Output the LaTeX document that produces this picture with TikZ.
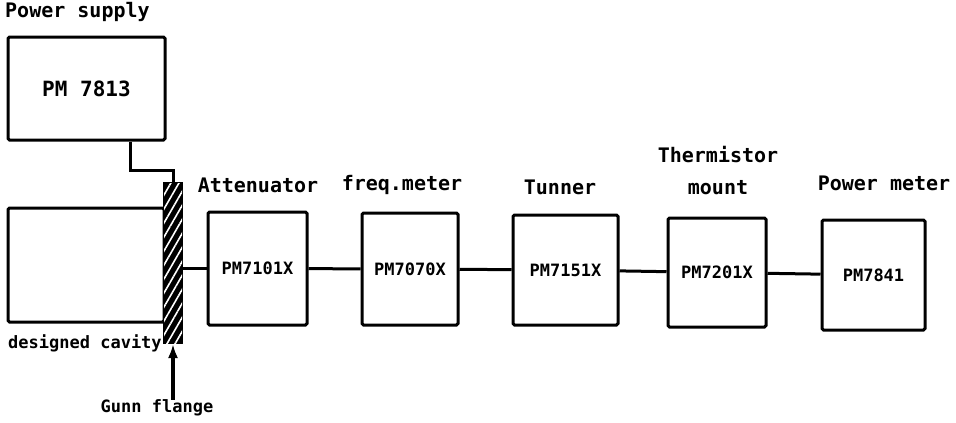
\documentclass[tikz,border=0pt]{standalone}
\usepackage{fontspec}
\setmonofont{DejaVu Sans Mono}
\usetikzlibrary{arrows.meta,patterns.meta}

\begin{document}
\begin{tikzpicture}[
x=1pt, y=-1pt,
every node/.style={font=\ttfamily\bfseries, align=center, inner sep=0pt},
unitbox/.style={draw, line width=3pt, rounded corners=1.5pt, font=\ttfamily\bfseries\fontsize{17}{20}\selectfont},
toplabel/.style={font=\ttfamily\bfseries\fontsize{20}{32}\selectfont},
smalllabel/.style={font=\ttfamily\bfseries\fontsize{17}{20}\selectfont},
flangebar/.style={draw, line width=2pt, fill=black, postaction={pattern={Lines[angle=60,distance=7pt,line width=1.6pt]}, pattern color=white}},
wire/.style={line width=3pt}
]
\useasboundingbox (0,0) rectangle (956,423);
% source side
\node[toplabel, anchor=west] (pslabel) at (5,12) {Power supply};
\node[unitbox, minimum width=157pt, minimum height=103pt, font=\ttfamily\bfseries\fontsize{21}{24}\selectfont] (psbox) at (86.5,88.5) {PM 7813};
\node[unitbox, minimum width=156pt, minimum height=114pt] (cavity) at (86,265) {};
\node[flangebar, minimum width=18pt, minimum height=160pt] (flange) at (173,263) {};
\node[smalllabel, anchor=west] (cavlabel) at (8,343) {designed cavity};
\node[smalllabel] (gunn) at (157,408) {Gunn flange};
% measuring chain
\node[unitbox, minimum width=99pt, minimum height=113pt] (att) at (257.5,268.5) {PM7101X};
\node[unitbox, minimum width=96pt, minimum height=112pt] (freq) at (410,269) {PM7070X};
\node[unitbox, minimum width=105pt, minimum height=110pt] (tun) at (565.5,270) {PM7151X};
\node[unitbox, minimum width=98pt, minimum height=109pt] (therm) at (717,272.5) {PM7201X};
\node[unitbox, minimum width=103pt, minimum height=110pt] (pmeter) at (873.5,275) {PM7841};
\node[toplabel] (attlabel) at (258,185) {Attenuator};
\node[toplabel] (freqlabel) at (402,185) {freq.meter};
\node[toplabel] (tunlabel) at (560,187) {Tunner};
\node[toplabel] (thermlabel) at (718,171) {Thermistor\\mount};
\node[toplabel] (pmlabel) at (884,183) {Power meter};
% connections
\draw[wire] ([xshift=44pt]psbox.south) |- ([yshift=12pt]flange.north) -- (flange.north);
\draw[wire] (att.west -| flange.east) -- (att.west);
\draw[wire] (att) -- (freq);
\draw[wire] (freq) -- (tun);
\draw[wire] (tun) -- (therm);
\draw[wire] (therm) -- (pmeter);
\draw[wire, line width=3.5pt, -{Latex[length=14pt,width=10pt]}] (gunn.north -| flange.south) -- (flange.south);
\end{tikzpicture}
\end{document}
